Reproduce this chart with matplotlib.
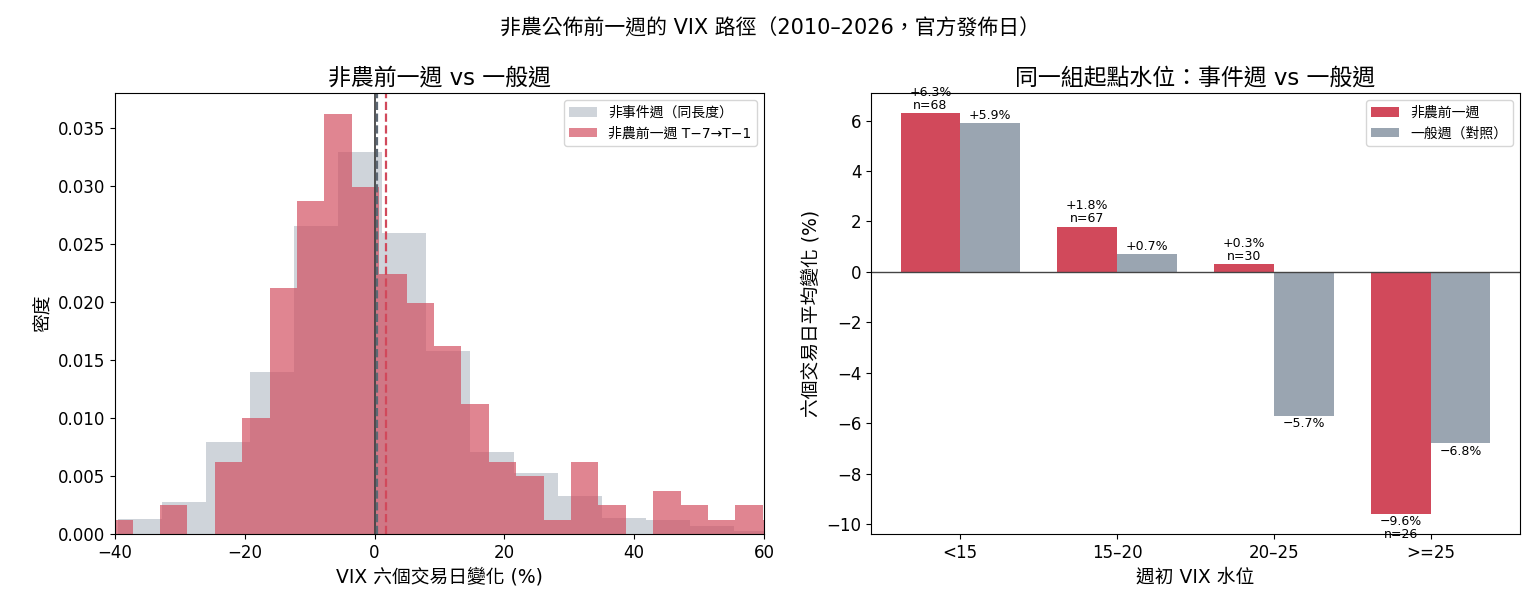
import matplotlib
matplotlib.use('Agg')
import matplotlib.pyplot as plt
import numpy as np

plt.rcParams['font.family'] = ['DejaVu Sans', 'Noto Sans CJK TC']
plt.rcParams['axes.unicode_minus'] = True

# --- histogram data ---
# non-event weeks: 15 bins of ~6.78 pts
grayEdges = [-39.5, -32.7, -26.0, -19.2, -12.4, -5.6, 1.2, 7.9, 14.7, 21.5, 28.3, 35.1, 41.8, 48.6, 55.4, 62.2]
grayDensity = [0.0013, 0.0028, 0.0079, 0.0140, 0.0265, 0.0329, 0.0259, 0.0158, 0.0071, 0.0053,
               0.0033, 0.0014, 0.0012, 0.0007, 0.0003]
# NFP week T-7 -> T-1: bins of ~4.22 pts
redEdges = [-41.5, -37.28, -33.06, -28.84, -24.61, -20.39, -16.17, -11.95, -7.73, -3.50, 0.72,
            4.94, 9.16, 13.38, 17.61, 21.83, 26.05, 30.27, 34.50, 38.72, 42.94, 47.16, 51.38,
            55.61, 59.83, 64.05]
redDensity = [0.0012, 0.0, 0.0025, 0.0, 0.0062, 0.0100, 0.0212, 0.0287, 0.0362, 0.0299, 0.0224,
              0.0199, 0.0162, 0.0112, 0.0062, 0.0050, 0.0012, 0.0062, 0.0025, 0.0, 0.0037,
              0.0025, 0.0012, 0.0025, 0.0012]
grayMean = 0.4
redMean = 1.7

# --- bucket data ---
buckets = ['<15', '15–20', '20–25', '>=25']
nfpAvg = [6.3, 1.8, 0.3, -9.6]
normAvg = [5.9, 0.7, -5.7, -6.8]
nfpN = [68, 67, 30, 26]

RED = '#d1495b'
GRAY = '#9aa5b1'

fig, (ax1, ax2) = plt.subplots(1, 2, figsize=(15.4, 6.16), dpi=100)
plt.subplots_adjust(left=0.0747, right=0.987, top=0.849, bottom=0.133, wspace=0.165)

fig.suptitle('非農公佈前一週的 VIX 路徑（2010–2026，官方發佈日）', fontsize=15, y=0.97)

# left: histogram
ax1.hist(grayEdges[:-1], bins=grayEdges, weights=grayDensity, color=GRAY, alpha=0.47,
         label='非事件週（同長度）')
ax1.hist(redEdges[:-1], bins=redEdges, weights=redDensity, color=RED, alpha=0.67,
         label='非農前一週 T−7→T−1')
ax1.axvline(0, color='#444444', lw=1.3)
ax1.axvline(grayMean, color='#5d6874', ls='--', lw=1.6)
ax1.axvline(redMean, color=RED, ls='--', lw=1.6)
ax1.set_xlim(-40, 60)
ax1.set_ylim(0, 0.038)
ax1.set_title('非農前一週 vs 一般週', fontsize=16.5)
ax1.set_xlabel('VIX 六個交易日變化 (%)', fontsize=13.5)
ax1.set_ylabel('密度', fontsize=13.5)
ax1.tick_params(labelsize=12)
ax1.yaxis.set_major_formatter(matplotlib.ticker.FormatStrFormatter('%.3f'))
ax1.legend(loc='upper right', fontsize=10)

# right: grouped bars
x = np.arange(len(buckets))
w = 0.38
b1 = ax2.bar(x - w / 2, nfpAvg, w, color=RED, label='非農前一週')
b2 = ax2.bar(x + w / 2, normAvg, w, color=GRAY, label='一般週（對照）')
ax2.axhline(0, color='#444444', lw=1)

def fmt(v):
    return ('+%.1f%%' % v) if v >= 0 else ('−%.1f%%' % abs(v))

for rect, v, n in zip(b1, nfpAvg, nfpN):
    cx = rect.get_x() + rect.get_width() / 2
    if v >= 0:
        ax2.annotate(fmt(v) + '\nn=%d' % n, (cx, v), xytext=(0, 1), textcoords='offset points',
                     ha='center', va='bottom', fontsize=9, linespacing=1.0)
    else:
        ax2.annotate(fmt(v) + '\nn=%d' % n, (cx, v), xytext=(0, -1), textcoords='offset points',
                     ha='center', va='top', fontsize=9, linespacing=1.0)
for rect, v in zip(b2, normAvg):
    cx = rect.get_x() + rect.get_width() / 2
    if v >= 0:
        ax2.annotate(fmt(v), (cx, v), xytext=(0, 1), textcoords='offset points',
                     ha='center', va='bottom', fontsize=9)
    else:
        ax2.annotate(fmt(v), (cx, v), xytext=(0, -1), textcoords='offset points',
                     ha='center', va='top', fontsize=9)

ax2.set_xticks(x)
ax2.set_xticklabels(buckets)
ax2.set_title('同一組起點水位：事件週 vs 一般週', fontsize=16.5)
ax2.set_xlabel('週初 VIX 水位', fontsize=13.5)
ax2.set_ylabel('六個交易日平均變化 (%)', fontsize=13.5)
ax2.tick_params(labelsize=12)
ax2.legend(loc='upper right', fontsize=10)

plt.savefig('out.png', dpi=100)
